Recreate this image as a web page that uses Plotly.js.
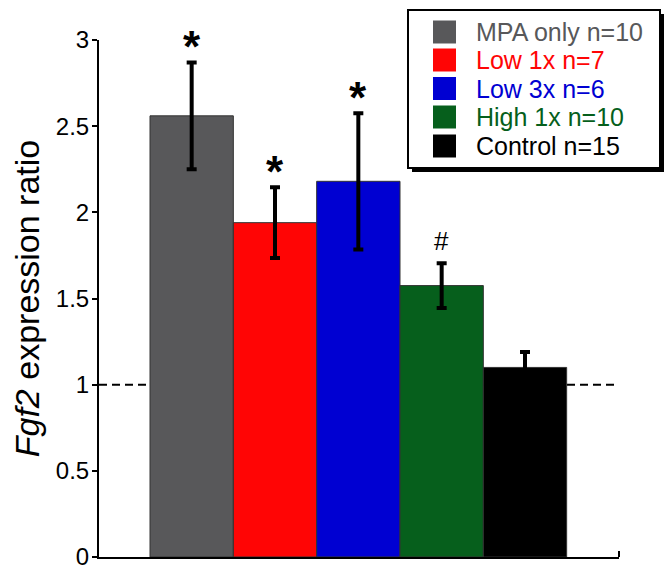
<!DOCTYPE html>
<html>
<head>
<meta charset="utf-8">
<script src="https://cdn.plot.ly/plotly-3.0.1.min.js"></script>
<style>
html,body{margin:0;padding:0;background:#fff;}
#chart{width:665px;height:571px;}
</style>
</head>
<body>
<div id="chart"></div>
<script>
// ---- data ----
const categories = ["MPA only", "Low 1x", "Low 3x", "High 1x", "Control"];
const groupN = [10, 7, 6, 10, 15];
const ratios = [2.56, 1.94, 2.18, 1.575, 1.10];
const errors = [0.31, 0.205, 0.395, 0.13, 0.09];
const marks = ["*", "*", "*", "#", ""];
const barColors = ["#58585a", "#ff0505", "#0000d2", "#065f1c", "#000000"];
const yTickVals = [0, 0.5, 1, 1.5, 2, 2.5, 3];
const yTickText = ["0", "0.5", "1", "1.5", "2", "2.5", "3"];
const baseline = 1;

// ---- layout helpers (pixel -> paper) ----
const W = 665, H = 571;
const M = {l: 99, r: 46, t: 40, b: 14};
const PW = W - M.l - M.r, PH = H - M.t - M.b;
const px = x => (x - M.l) / PW;
const py = y => (H - M.b - y) / PH;
const FONT = "Liberation Sans, Arial, Helvetica, sans-serif";

const trace = {
  type: "bar",
  x: categories,
  y: ratios,
  marker: {color: barColors, line: {color: "#333333", width: 1}},
  error_y: {type: "data", array: errors, visible: true, color: "#000", thickness: 4, width: 5},
  showlegend: false,
  hoverinfo: "x+y"
};

const shapes = [
  // dashed reference line at 1
  {type: "line", xref: "paper", yref: "y", x0: 0, x1: 1, y0: baseline, y1: baseline,
   line: {color: "#000", width: 2, dash: "8px,5px"}, layer: "below"},
  // right end tick of the x axis
  {type: "line", xref: "paper", yref: "paper", x0: 1, x1: 1, y0: 0, y1: py(H - M.b - 6),
   line: {color: "#000", width: 2}},
  // legend shadow
  {type: "rect", xref: "paper", yref: "paper", x0: px(412), x1: px(664), y0: py(172), y1: py(14),
   fillcolor: "#000", line: {width: 0}},
  // legend box
  {type: "rect", xref: "paper", yref: "paper", x0: px(408), x1: px(660), y0: py(168), y1: py(10),
   fillcolor: "#fff", line: {color: "#000", width: 2}}
];

const annotations = [];
const rowY = [32, 60, 88.5, 117, 146];
categories.forEach((c, i) => {
  shapes.push({type: "rect", xref: "paper", yref: "paper",
    x0: px(433), x1: px(456), y0: py(rowY[i] + 11.5), y1: py(rowY[i] - 11.5),
    fillcolor: barColors[i], line: {width: 0}});
  annotations.push({xref: "paper", yref: "paper", x: px(474), y: py(rowY[i]),
    xanchor: "left", yanchor: "middle", showarrow: false,
    text: c + " n=" + groupN[i], font: {family: FONT, size: 25, color: barColors[i]}});
  if (marks[i]) {
    const star = marks[i] === "*";
    annotations.push({xref: "x", yref: "y", x: c, y: ratios[i] + errors[i],
      xanchor: "center", yanchor: "middle", showarrow: false,
      yshift: star ? 16 : 22,
      text: star ? "<b>*</b>" : marks[i],
      font: {family: FONT, size: star ? 44 : 26, color: "#000"}});
  }
});

const layout = {
  width: W, height: H,
  margin: M,
  paper_bgcolor: "#fff", plot_bgcolor: "#fff",
  bargap: 0,
  showlegend: false,
  font: {family: FONT, color: "#000"},
  xaxis: {
    type: "category",
    range: [-1.112, 5.128],
    showticklabels: false, ticks: "",
    showline: true, linecolor: "#000", linewidth: 2,
    showgrid: false, zeroline: false, fixedrange: true
  },
  yaxis: {
    range: [0, 3],
    tickvals: yTickVals, ticktext: yTickText,
    ticks: "outside", ticklen: 5, tickwidth: 2, tickcolor: "#000",
    tickfont: {family: FONT, size: 24, color: "#000"},
    ticklabelstandoff: -2,
    ticklabeloverflow: "allow",
    showline: true, linecolor: "#000", linewidth: 2,
    showgrid: false, zeroline: false,
    title: {text: "<i>Fgf2</i> expression ratio", font: {family: FONT, size: 34, color: "#000"}, standoff: 6}
  },
  shapes: shapes,
  annotations: annotations
};

Plotly.newPlot("chart", [trace], layout, {displayModeBar: false, staticPlot: true});
</script>
</body>
</html>
